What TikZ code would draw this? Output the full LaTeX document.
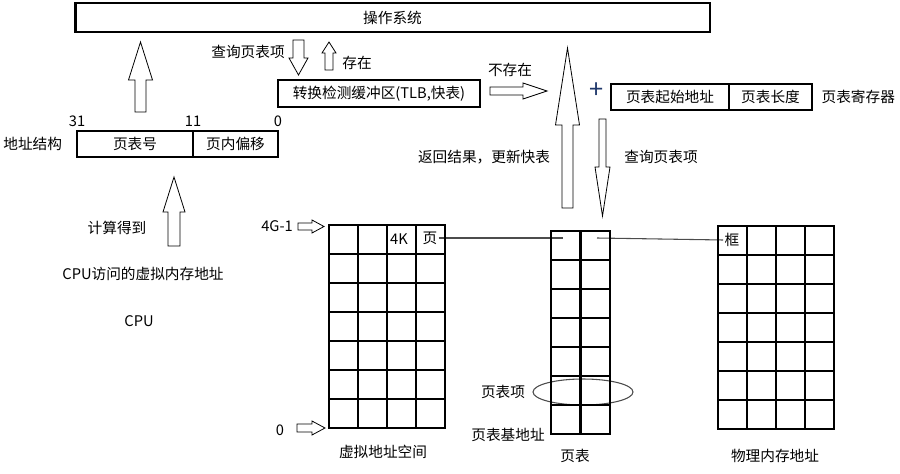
\documentclass[tikz,border=0pt]{standalone}
\usepackage{fontspec}
\setmainfont{Noto Sans CJK SC}
\usetikzlibrary{positioning}

\definecolor{plusblue}{rgb}{0.12,0.22,0.42}

% hollow block arrows: centre, base, tip, shaft half width, head half width, neck
\newcommand{\vblock}[6]{\draw[blk] (#1-#4,#2) -- (#1-#4,#6) -- (#1-#5,#6) -- (#1,#3) -- (#1+#5,#6) -- (#1+#4,#6) -- (#1+#4,#2) -- cycle;}
\newcommand{\hblock}[6]{\draw[blk] (#2,#1-#4) -- (#6,#1-#4) -- (#6,#1-#5) -- (#3,#1) -- (#6,#1+#5) -- (#6,#1+#4) -- (#2,#1+#4) -- cycle;}

\begin{document}
\begin{tikzpicture}[
x=0.75pt, y=-0.75pt,
font=\fontsize{11}{13}\selectfont,
box/.style={draw, line width=2pt, inner sep=0pt, outer sep=0pt, minimum height=19.5pt},
blk/.style={draw, line width=0.6pt, fill=white},
cell/.style={line width=2.1pt, line cap=rect},
thin/.style={draw=black!70, line width=0.8pt},
lbl/.style={inner sep=1pt}
]
\useasboundingbox (0,0) rectangle (900,474);

% boxes
\node[box, minimum width=476pt, minimum height=21.75pt] (os) at (392.5,17.5) {操作系统};
\node[box, minimum width=151.5pt, minimum height=20.25pt] (tlb) at (379,93.5) {转换检测缓冲区(TLB,快表)};
\node[box, minimum width=87pt] (pnum) at (135,144) {页表号};
\node[box, minimum width=63.75pt, right=0pt of pnum] (poff) {页内偏移};
\node[box, minimum width=88.5pt] (rstart) at (670,97) {页表起始地址};
\node[box, minimum width=62.25pt, right=0pt of rstart] (rlen) {页表长度};

% address structure labels
\node[lbl, left=10pt of pnum] (addr) {地址结构};
\node[lbl, above=2pt of pnum.north west] (b31) {31};
\node[lbl, above=2pt of pnum.north east] (b11) {11};
\node[lbl, above=2pt of poff.north east] (b0) {0};
\node[lbl, right=6pt of rlen] (reg) {页表寄存器};
\node[lbl, text=plusblue, font=\fontsize{19}{19}\selectfont] (plus) at (597,91) {+};

% texts
\node[lbl] (qry1) at (248,52) {查询页表项};
\node[lbl] (hit) at (357,63) {存在};
\node[lbl] (miss) at (510,70) {不存在};
\node[lbl] (ret) at (484,157) {返回结果，更新快表};
\node[lbl] (qry2) at (661,157) {查询页表项};
\node[lbl] (calc) at (117,228) {计算得到};
\node[lbl] (vaddr) at (143,274) {CPU访问的虚拟内存地址};
\node[lbl] (cpu) at (139,321) {CPU};
\node[lbl] (top) at (277,226) {4G-1};
\node[lbl] (zero) at (280,430) {0};
\node[lbl] (vspace) at (383,452) {虚拟地址空间};
\node[lbl] (pte) at (503,392) {页表项};
\node[lbl] (ptbase) at (508,435) {页表基地址};
\node[lbl] (ptab) at (575,456) {页表};
\node[lbl] (pmem) at (775,456) {物理内存地址};

% block arrows
\vblock{140.5}{112}{42}{5.5}{12}{80}
\vblock{298.5}{40}{75}{5.5}{9.5}{58}
\vblock{329}{70}{42}{4}{7}{53}
\hblock{91}{490}{547}{4}{8}{523}
\vblock{567.5}{208}{48}{5.5}{12}{125}
\vblock{602.5}{119}{216}{3.5}{7.5}{167}
\vblock{174}{246}{177}{6}{11}{212}
\hblock{226.5}{298}{324}{3.5}{6.5}{312}
\hblock{428}{297}{325}{4}{7}{312}

% page to frame
\node[lbl] (kb) at (399,239) {4K};
\node[lbl] (pg) at (430,238) {页};
\node[lbl] (frame) at (732,240) {框};
\coordinate (ptl) at (563,238);
\coordinate (ptr) at (597,238);
\draw[thin] (pg.east) -- (ptl);
\draw[thin] (ptr) -- (frame.west);
\draw[thin] (583,392) ellipse [x radius=37.5pt, y radius=9.75pt];

% virtual address space
\foreach \i in {0,...,4} \draw[cell] (329+29*\i,225) -- (329+29*\i,428);
\foreach \j in {0,...,7} \draw[cell] (329,225+29*\j) -- (445,225+29*\j);
% page table
\foreach \i in {0,...,2} \draw[cell] (551+29.5*\i,231) -- (551+29.5*\i,434);
\foreach \j in {0,...,7} \draw[cell] (551,231+29*\j) -- (610,231+29*\j);
% physical memory
\foreach \i in {0,...,4} \draw[cell] (718+29*\i,226) -- (718+29*\i,429);
\foreach \j in {0,...,7} \draw[cell] (718,226+29*\j) -- (834,226+29*\j);
\end{tikzpicture}
\end{document}
